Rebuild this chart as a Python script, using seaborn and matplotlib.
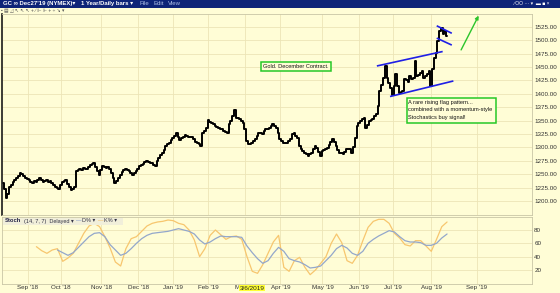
import numpy as np
import pandas as pd
import matplotlib
matplotlib.use("Agg")
import matplotlib.pyplot as plt
from matplotlib.patches import Rectangle
import seaborn as sns

# ---------------- data ----------------
close = [
    1234, 1222, 1205, 1213, 1226, 1230, 1235, 1240, 1243, 1247,
    1252, 1250, 1246, 1243, 1241, 1239, 1236, 1234, 1237, 1235,
    1240, 1243, 1239, 1236, 1238, 1239, 1236, 1237, 1234, 1230,
    1227, 1225, 1222, 1230, 1235, 1238, 1240, 1232, 1226, 1220,
    1223, 1226, 1256, 1258, 1260, 1257, 1262, 1259, 1260, 1264,
    1267, 1269, 1271, 1263, 1256, 1248, 1258, 1265, 1263, 1262,
    1264, 1260, 1252, 1243, 1234, 1238, 1243, 1249, 1254, 1257,
    1260, 1258, 1256, 1252, 1248, 1252, 1256, 1260, 1265, 1268,
    1270, 1273, 1275, 1273, 1271, 1271, 1268, 1265, 1275, 1280,
    1285, 1290, 1296, 1303, 1306, 1308, 1313, 1318, 1322, 1326,
    1320, 1313, 1317, 1320, 1323, 1321, 1320, 1319, 1319, 1316,
    1311, 1308, 1306, 1303, 1327, 1331, 1336, 1351, 1348, 1346,
    1343, 1340, 1338, 1336, 1335, 1334, 1331, 1329, 1327, 1344,
    1349, 1358, 1370, 1355, 1354, 1353, 1350, 1346, 1334, 1312,
    1306, 1307, 1308, 1312, 1316, 1321, 1327, 1326, 1325, 1330,
    1334, 1335, 1336, 1340, 1344, 1340, 1336, 1326, 1316, 1312,
    1308, 1308, 1308, 1312, 1316, 1325, 1327, 1322, 1318, 1303,
    1298, 1294, 1290, 1287, 1284, 1287, 1290, 1297, 1303, 1299,
    1292, 1284, 1294, 1296, 1298, 1299, 1305, 1310, 1316, 1310,
    1303, 1296, 1290, 1289, 1288, 1292, 1297, 1297, 1297, 1290,
    1300, 1318, 1340, 1345, 1350, 1353, 1355, 1336, 1342, 1349,
    1351, 1353, 1358, 1362, 1377, 1405, 1416, 1430, 1452, 1429,
    1420, 1410, 1398, 1414, 1437, 1414, 1401, 1403, 1405, 1427,
    1425, 1423, 1433, 1427, 1429, 1461, 1433, 1436, 1439, 1442,
    1429, 1433, 1437, 1442, 1414, 1446, 1467, 1476, 1499, 1518,
    1523, 1512, 1518, 1508,
]

# Stochastics (14,7,7), read every 3rd trading day
stoch_step = 3
k_start = 19
stoch_k = [55, 49, 45, 50, 52, 33, 38, 45, 60, 75, 86, 90, 85, 70, 53, 32, 26, 52,
           67, 70, 78, 86, 90, 92, 93, 95, 94, 90, 88, 80, 65, 40, 52, 72, 80, 73,
           66, 70, 71, 66, 40, 18, 15, 28, 45, 62, 72, 24, 18, 34, 39, 24, 13, 20,
           30, 40, 60, 74, 61, 34, 30, 42, 64, 84, 93, 96, 96, 90, 75, 68, 58, 56,
           64, 64, 56, 48, 66, 85, 92]
d_start = 31
stoch_d = [50, 46, 42, 46, 54, 62, 70, 75, 76, 70, 58, 50, 42, 45, 52, 60, 67, 72,
           75, 76, 77, 78, 80, 82, 80, 78, 74, 65, 59, 62, 67, 71, 70, 70, 70, 69,
           56, 46, 37, 30, 34, 45, 54, 48, 37, 34, 32, 28, 23, 24, 26, 34, 42, 52,
           57, 53, 45, 42, 48, 60, 66, 71, 75, 79, 77, 70, 64, 62, 62, 61, 57, 57,
           60, 68, 74]

month_labels = ["Sep '18", "Oct '18", "Nov '18", "Dec '18", "Jan '19", "Feb '19",
                "Mar '19", "Apr '19", "May '19", "Jun '19", "Jul '19", "Aug '19", "Sep '19"]
month_days = [14, 33, 56, 77, 97, 117, 138, 158, 182, 203, 222, 244, 270]
price_ticks = [1200, 1225, 1250, 1275, 1300, 1325, 1350, 1375, 1400, 1425, 1450, 1475, 1500, 1525]
stoch_ticks = [20, 40, 60, 80]
hover_day = 142
hover_label = "3/6/2019"

# drawn annotations (trading-day index, price)
channel_upper = ([213, 250.5], [1452, 1479])
channel_lower = ([220.5, 256.6], [1395, 1424])
flag_upper = ([247.1, 255.7], [1527, 1513])
flag_lower = ([247.1, 255.7], [1504, 1491])
arrow_from = (261, 1482)
arrow_to = (271, 1546)

# ---------------- style ----------------
sns.set_style("white")
plt.rcParams['font.family'] = ['Liberation Sans', 'DejaVu Sans']

W, H = 560, 293
BG = '#FFFDD6'
GRID = '#ECE5B6'
fig = plt.figure(figsize=(W / 100, H / 100), dpi=100)
fig.patch.set_facecolor(BG)


def fx(px):
    return px / W


def fy(py):
    return 1 - py / H


def frect(x0, y0, x1, y1, **kw):
    fig.patches.append(Rectangle((fx(x0), fy(y1)), (x1 - x0) / W, (y1 - y0) / H,
                                 transform=fig.transFigure, **kw))


XL = (-0.6, 301.4)

# ---------------- main price panel ----------------
ax = fig.add_axes([fx(2), fy(215), 530 / W, 201 / H])
ax.set_facecolor(BG)
price_df = pd.DataFrame({'day': np.arange(len(close)), 'close': close})
sns.lineplot(data=price_df, x='day', y='close', ax=ax, color='black', linewidth=1.4,
             drawstyle='steps-mid', estimator=None, sort=False)
ax.set_xlim(*XL)
ax.set_ylim(1173.9, 1549)
ax.set_yticks(price_ticks)
ax.set_xticks(month_days)
ax.grid(True, color=GRID, linewidth=0.6)
ax.set_axisbelow(True)
ax.yaxis.tick_right()
ax.set_yticklabels([f"{v:.2f}" for v in price_ticks])
ax.tick_params(axis='y', length=0, pad=1.6, labelsize=4.5, labelcolor='#333333')
ax.tick_params(axis='x', length=0, labelbottom=False)
ax.set_xlabel('')
ax.set_ylabel('')
for s in ax.spines.values():
    s.set_color('#C9C6A6')
    s.set_linewidth(0.6)
ax.spines['left'].set_color('#1a1a1a')
ax.spines['left'].set_linewidth(1.2)

blue = '#1F1FE6'
for xs, ys in (channel_upper, channel_lower, flag_upper, flag_lower):
    ax.plot(xs, ys, color=blue, linewidth=1.2, solid_capstyle='butt')
ax.annotate('', xy=arrow_to, xytext=arrow_from,
            arrowprops=dict(arrowstyle='-|>', color='#2BC42B', lw=1.0,
                            mutation_scale=5, shrinkA=0, shrinkB=0))

# ---------------- stochastics panel ----------------
ax2 = fig.add_axes([fx(2), fy(284), 530 / W, 67 / H])
ax2.set_facecolor(BG)
k_df = pd.DataFrame({'day': np.arange(k_start, k_start + stoch_step * len(stoch_k), stoch_step),
                     'val': stoch_k})
d_df = pd.DataFrame({'day': np.arange(d_start, d_start + stoch_step * len(stoch_d), stoch_step),
                     'val': stoch_d})
sns.lineplot(data=k_df, x='day', y='val', ax=ax2, color='#F7C66E', linewidth=0.9,
             estimator=None, sort=False)
sns.lineplot(data=d_df, x='day', y='val', ax=ax2, color='#93A7CB', linewidth=0.9,
             estimator=None, sort=False)
ax2.set_xlim(*XL)
ax2.set_ylim(-1, 99.5)
ax2.set_yticks(stoch_ticks)
ax2.set_xticks(month_days)
ax2.set_xticklabels(month_labels)
ax2.grid(True, color=GRID, linewidth=0.6)
ax2.set_axisbelow(True)
ax2.yaxis.tick_right()
ax2.tick_params(axis='y', length=0, pad=1.6, labelsize=4.5, labelcolor='#333333')
ax2.tick_params(axis='x', length=0, pad=1.0, labelsize=4.5, labelcolor='#333333')
ax2.set_xlabel('')
ax2.set_ylabel('')
for s in ax2.spines.values():
    s.set_color('#C9C6A6')
    s.set_linewidth(0.6)

# hover date label over the x axis (placed at the tick-label row)
hover_x = ax2.transData.transform((hover_day, 0))[0]
hover_xf = fig.transFigure.inverted().transform((hover_x, 0))[0]
fig.text(hover_xf, fy(288.2), hover_label, ha='center', va='center', fontsize=4.6,
         color='#222222', zorder=10,
         bbox=dict(boxstyle='square,pad=0.12', fc='#FFFF33', ec='none'))

# stoch legend strip
frect(3, 217.5, 123, 224.5, facecolor='#F1EFDA', edgecolor='none', zorder=5)
fig.text(fx(5), fy(221), 'Stoch', fontsize=4.2, fontweight='bold', color='#222244',
         va='center', zorder=6)
fig.text(fx(24), fy(221), '(14, 7, 7)  Delayed \u25BE', fontsize=4.0, color='#333344',
         va='center', zorder=6)
fig.text(fx(76), fy(221), '\u2014', fontsize=4.0, color='#6F8CC8', va='center', zorder=6)
fig.text(fx(82), fy(221), 'D% \u25BE', fontsize=4.0, color='#333344', va='center', zorder=6)
fig.text(fx(98), fy(221), '\u2014', fontsize=4.0, color='#F2B24A', va='center', zorder=6)
fig.text(fx(104), fy(221), 'K% \u25BE', fontsize=4.0, color='#333344', va='center', zorder=6)

# ---------------- window chrome ----------------
frect(0, 0, 560, 7.5, facecolor='#0E2478', edgecolor='none')
fig.text(fx(3), fy(3.8), "GC \u221E Dec27'19 (NYMEX)\u25BE", fontsize=4.3, color='white',
         fontweight='bold', va='center')
fig.text(fx(81), fy(3.8), "1 Year/Daily bars \u25BE", fontsize=4.3, color='white',
         fontweight='bold', va='center')
fig.text(fx(139), fy(3.8), "File", fontsize=4.3, color='#AFC0E8', va='center')
fig.text(fx(154), fy(3.8), "Edit", fontsize=4.3, color='#AFC0E8', va='center')
fig.text(fx(168), fy(3.8), "View", fontsize=4.3, color='#AFC0E8', va='center')
fig.text(fx(513), fy(3.8), "\u2215 OO \u00b7\u00b7\u00b7 \u25BE  \u25AC \u25A0 \u00D7", fontsize=3.6,
         color='white', va='center')
fig.text(fx(1), fy(10.8), "\u25AA \u25A4 \u25FF \u2196 \u2196 \u2196 + \u2215 \u22A9 \u22A9 + \u00F7 \u2198 \u25BE",
         fontsize=3.4, color='#555555', va='center')

# ---------------- text boxes ----------------
frect(260.7, 62.3, 330.7, 70.7, facecolor=BG, edgecolor='#26C826', linewidth=1.1, zorder=5)
fig.text(fx(295.7), fy(66.6), "Gold. December Contract.", fontsize=4.1, color='#111111',
         ha='center', va='center', zorder=6)

frect(406.7, 97.7, 496, 122.7, facecolor=BG, edgecolor='#26C826', linewidth=1.1, zorder=5)
for yy, line in zip((102.4, 110.0, 117.6),
                    ("A rare rising flag pattern...", "combined with a momentum-style",
                     "Stochastics buy signal!")):
    fig.text(fx(408.5), fy(yy), line, fontsize=4.1, color='#111111', ha='left',
             va='center', zorder=6)

fig.savefig('out.png', dpi=100, facecolor=BG)
